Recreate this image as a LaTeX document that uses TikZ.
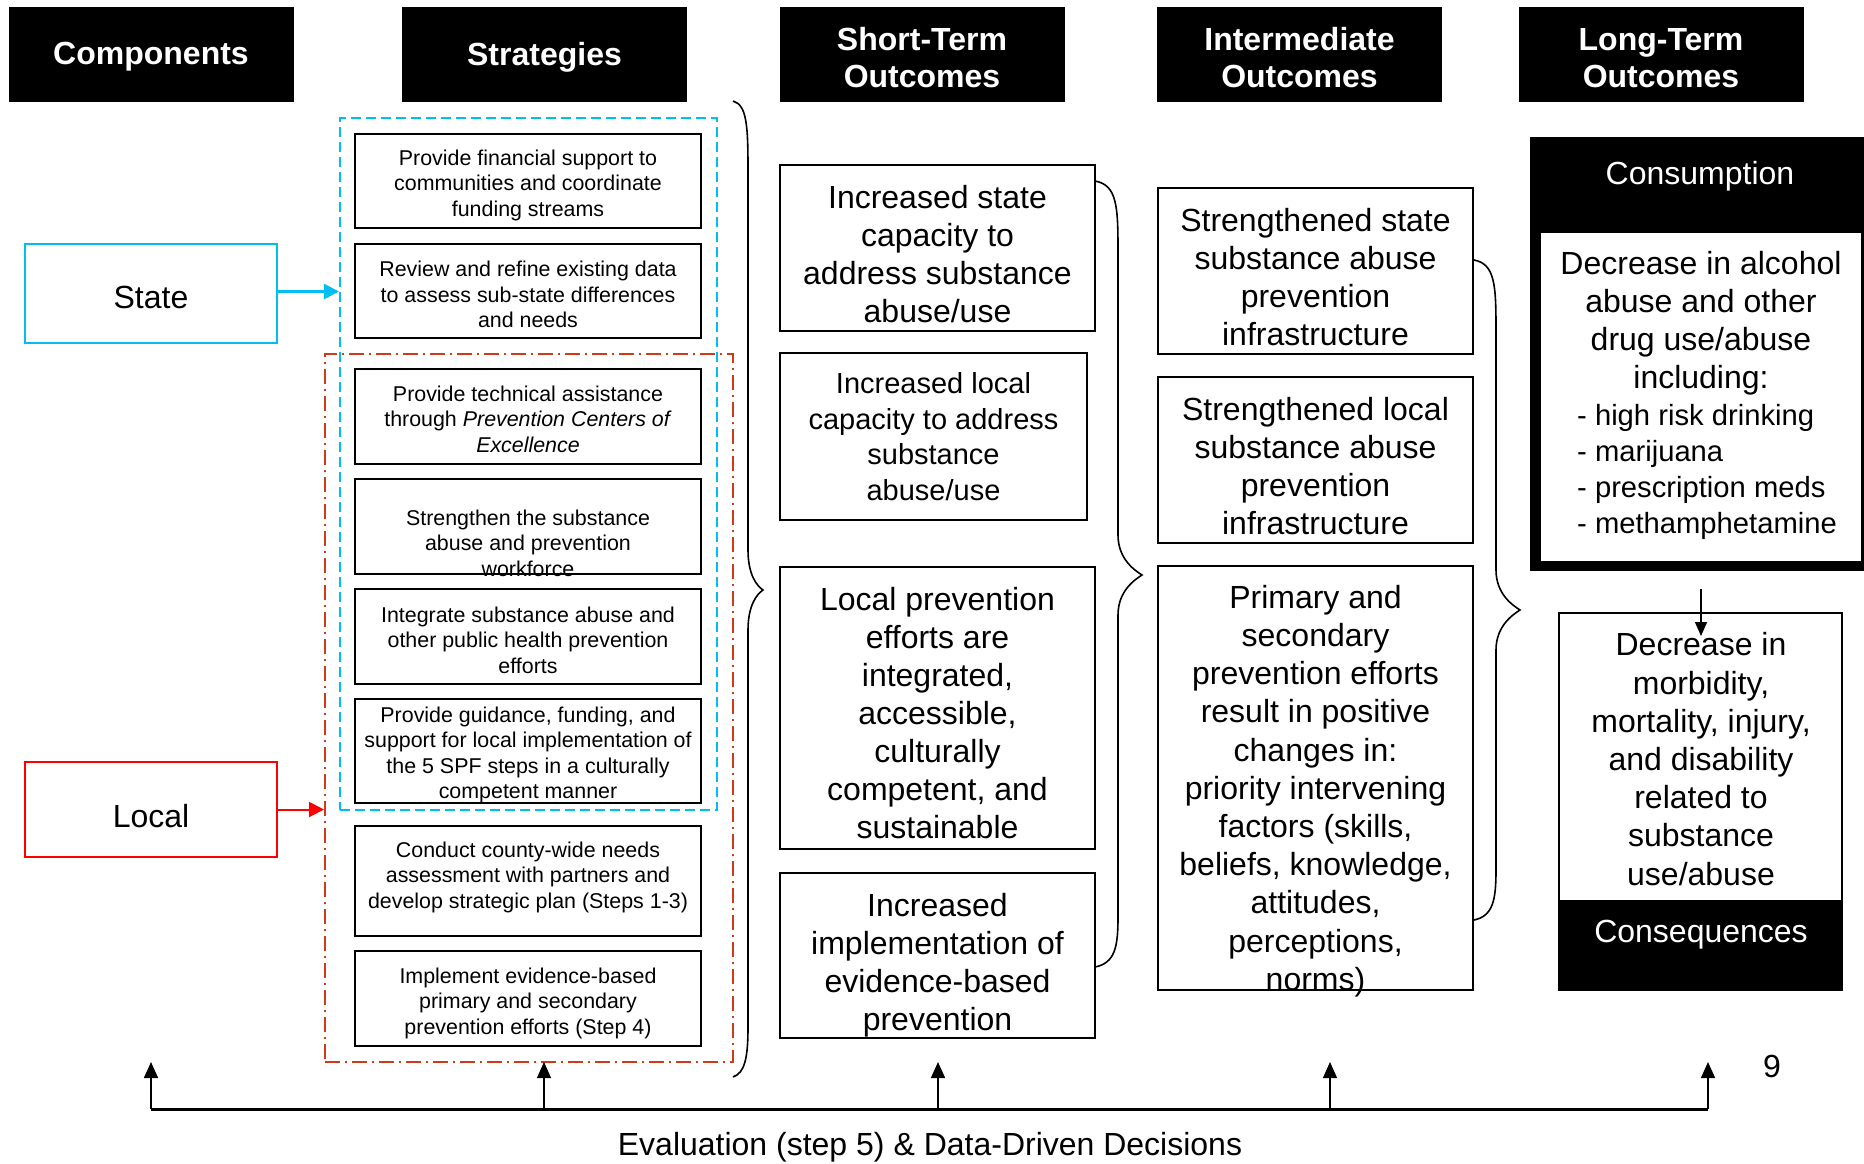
\documentclass[tikz,border=0pt]{standalone}
\usepackage{fontspec}
\setmainfont{Liberation Sans}
\usetikzlibrary{arrows.meta}
\definecolor{cyanc}{RGB}{0,190,240}
\definecolor{redc}{RGB}{255,0,0}
\definecolor{dashred}{RGB}{208,58,22}
\newcommand\fsA{\fontsize{32}{38}\selectfont}
\newcommand\fsB{\fontsize{21.4}{25.5}\selectfont}
\newcommand\mybrace[6]{%
 \draw[line width=1.6pt] (#1,#2) .. controls ({#3-1},{#2+4}) and (#3,{#2+25}) .. (#3,{#2+70})
   -- (#3,{#5-40}) .. controls (#3,{#5-15}) and ({#4-6},{#5-4}) .. (#4,#5)
   .. controls ({#4-6},{#5+4}) and (#3,{#5+15}) .. (#3,{#5+40})
   -- (#3,{#6-50}) .. controls (#3,{#6-20}) and ({#3-3},{#6-4}) .. (#1,#6);}
\begin{document}
\begin{tikzpicture}[x=1pt,y=-1pt,
  hdr/.style={fill=black,inner sep=0pt,minimum width=285pt,minimum height=95pt},
  hdrtext/.style={text=white,font=\bfseries\fontsize{32}{37}\selectfont,align=center,inner sep=0pt},
  sbox/.style={draw,line width=2.2pt,inner sep=0pt,minimum width=346pt},
  obox/.style={draw,line width=2pt,inner sep=0pt,minimum width=315pt},
  stext/.style={inner sep=0pt,align=center,font=\fsB},
  otext/.style={inner sep=0pt,align=center,font=\fsA},
  evarrow/.style={line width=1.6pt,-{Triangle[length=16pt,width=14pt]}},
]
\useasboundingbox[fill=white] (0,0) rectangle (1864,1163);

% headers
\node[hdr] (hcomp) at (151,54.5) {};
\node[hdr] (hstrat) at (544.5,54.5) {};
\node[hdr] (hshort) at (922,54.5) {};
\node[hdr] (hinter) at (1299.5,54.5) {};
\node[hdr] (hlong) at (1661,54.5) {};
\node[hdrtext] (hcompt) at ([yshift=-2.5pt]hcomp.center) {Components};
\node[hdrtext] (hstratt) at ([yshift=-2.5pt]hstrat.center) {Strategies};
\node[hdrtext] (hshortt) at ([yshift=-3.5pt]hshort.center) {Short-Term\\Outcomes};
\node[hdrtext] (hintert) at ([yshift=-3.5pt]hinter.center) {Intermediate\\Outcomes};
\node[hdrtext] (hlongt) at ([yshift=-3.5pt]hlong.center) {Long-Term\\Outcomes};

% components
\node[draw=cyanc,line width=2.5pt,minimum width=252pt,minimum height=99pt,inner sep=0pt] (state) at (151,293.5) {};
\node[otext] (statet) at ([yshift=-3.5pt]state.center) {State};
\node[draw=redc,line width=2pt,minimum width=252pt,minimum height=95pt,inner sep=0pt] (local) at (151,809.5) {};
\node[otext] (localt) at ([yshift=-7pt]local.center) {Local};

% grouping boxes
\node[draw=cyanc,dash pattern=on 10pt off 5pt,line width=2pt,minimum width=377pt,minimum height=692pt,inner sep=0pt] (cyanbox) at (528.5,464) {};
\node[draw=dashred,dash pattern=on 15pt off 5pt on 2pt off 5pt,line width=2pt,minimum width=408pt,minimum height=708pt,inner sep=0pt] (redbox) at (529,708) {};

\draw[cyanc,line width=2.5pt,-{Triangle[length=15pt,width=15pt]}] ([yshift=2pt]state.east) -- ([yshift=2pt]state.east -| cyanbox.west);
\draw[redc,line width=2pt,-{Triangle[length=15pt,width=15pt]}] (local.east) -- (local.east -| redbox.west);

% strategies
\node[sbox,minimum height=94pt] (s1) at (528,181) {};
\node[stext] (s1t) at ([yshift=-4pt]s1.center) {Provide financial support to\\communities and coordinate\\funding streams};
\node[sbox,minimum height=94pt] (s2) at (528,291) {};
\node[stext] (s2t) at ([yshift=-3.5pt]s2.center) {Review and refine existing data\\to assess sub-state differences\\and needs};
\node[sbox,minimum height=95pt] (s3) at (528,416.5) {};
\node[stext] (s3t) at ([yshift=-2.5pt]s3.center) {Provide technical assistance\\through \textit{Prevention Centers of}\\\textit{Excellence}};
\node[sbox,minimum height=95pt] (s4) at (528,526.5) {};
\node[stext] (s4t) at ([yshift=-16.5pt]s4.center) {Strengthen the substance\\abuse and prevention\\workforce};
\node[sbox,minimum height=95pt] (s5) at (528,636.5) {};
\node[stext] (s5t) at ([yshift=-3.5pt]s5.center) {Integrate substance abuse and\\other public health prevention\\efforts};
\node[sbox,minimum height=104pt] (s6) at (528,751) {};
\node[stext] (s6t) at ([yshift=-4pt]s6.center) {Provide guidance, funding, and\\support for local implementation of\\the 5 SPF steps in a culturally\\competent manner};
\node[sbox,minimum height=110pt] (s7) at (528,881) {};
\node[stext] (s7t) at ([yshift=4pt]s7.center) {Conduct county-wide needs\\assessment with partners and\\develop strategic plan (Steps 1-3)};
\node[sbox,minimum height=95pt] (s8) at (528,998.5) {};
\node[stext] (s8t) at ([yshift=-4.5pt]s8.center) {Implement evidence-based\\primary and secondary\\prevention efforts (Step 4)};

% short-term outcomes
\node[obox,minimum height=166pt] (st1) at (937.5,248) {};
\node[otext] (st1t) at ([yshift=-6pt]st1.center) {Increased state\\capacity to\\address substance\\abuse/use};
\node[obox,minimum width=307pt,minimum height=167pt] (st2) at (933.5,436.5) {};
\node[otext,font=\fontsize{29}{35.5}\selectfont] (st2t) at (st2.center) {Increased local\\capacity to address\\substance\\abuse/use};
\node[obox,minimum height=282pt] (st3) at (937.5,708) {};
\node[otext] (st3t) at ([yshift=-5pt]st3.center) {Local prevention\\efforts are\\integrated,\\accessible,\\culturally\\competent, and\\sustainable};
\node[obox,minimum height=165pt] (st4) at (937.5,955.5) {};
\node[otext] (st4t) at ([yshift=-10pt]st4.center) {Increased\\implementation of\\evidence-based\\prevention};

% intermediate outcomes
\node[obox,minimum height=166pt] (it1) at (1315.5,271) {};
\node[otext] (it1t) at ([yshift=-6pt]it1.center) {Strengthened state\\substance abuse\\prevention\\infrastructure};
\node[obox,minimum height=166pt] (it2) at (1315.5,460) {};
\node[otext] (it2t) at ([yshift=-6pt]it2.center) {Strengthened local\\substance abuse\\prevention\\infrastructure};
\node[obox,minimum height=424pt] (it3) at (1315.5,778) {};
\node[otext,font=\fontsize{32}{38.2}\selectfont] (it3t) at ([yshift=-13pt]it3.center) {Primary and\\secondary\\prevention efforts\\result in positive\\changes in:\\priority intervening\\factors (skills,\\beliefs, knowledge,\\attitudes,\\perceptions,\\norms)};

% braces
\mybrace{733}{101}{748}{763}{590}{1077}
\mybrace{1095}{181}{1118}{1142}{575}{967}
\mybrace{1474}{260}{1496}{1520}{610}{920}

% long-term: consumption
\node[fill=black,minimum width=334pt,minimum height=434pt,inner sep=0pt] (cons) at (1697,354) {};
\node[fill=white,minimum width=320pt,minimum height=328pt,inner sep=0pt] (consw) at (1701,397) {};
\node[otext,text=white] (constitle) at (1700,176) {Consumption};
\node[otext] (conslines) at (1701,323) {Decrease in alcohol\\abuse and other\\drug use/abuse\\including:};
\node[inner sep=0pt,anchor=west,align=left,font=\fontsize{29.2}{36}\selectfont] (conslist) at (1577,472) {- high risk drinking\\- marijuana\\- prescription meds\\- methamphetamine};

% long-term: consequences
\node[draw,line width=1.5pt,minimum width=283pt,minimum height=377pt,inner sep=0pt] (consq) at (1700.5,801.5) {};
\node[fill=black,minimum width=283pt,minimum height=90pt,inner sep=0pt] (consqbar) at (1700.5,945) {};
\node[otext,text=white] (consqtitle) at (1701,934.5) {Consequences};
\node[otext,font=\fontsize{32}{38.2}\selectfont] (consqt) at (1701,759) {Decrease in\\morbidity,\\mortality, injury,\\and disability\\related to\\substance\\use/abuse};

\coordinate (ca) at (1701,589);
\coordinate (cb) at (1701,636);
\draw[line width=1.5pt,-{Triangle[length=14pt,width=12pt]}] (ca) -- (cb);

% evaluation feedback
\coordinate (e1) at (151,1109);
\coordinate (e2) at (544,1109);
\coordinate (e3) at (938,1109);
\coordinate (e4) at (1330,1109);
\coordinate (e5) at (1708,1109);
\coordinate (t1) at (151,1062);
\coordinate (t2) at (544,1062);
\coordinate (t3) at (938,1062);
\coordinate (t4) at (1330,1062);
\coordinate (t5) at (1708,1062);
\draw[line width=3pt] (e1) -- (e5);
\draw[evarrow] (e1) -- (t1);
\draw[evarrow,line width=1.1pt] (e2) -- (t2);
\draw[evarrow] (e3) -- (t3);
\draw[evarrow,line width=1.1pt] (e4) -- (t4);
\draw[evarrow] (e5) -- (t5);
\node[otext] (evaltext) at (930,1147.5) {Evaluation (step 5) \& Data-Driven Decisions};
\node[otext] (pagenum) at (1772,1066) {9};
\end{tikzpicture}
\end{document}
